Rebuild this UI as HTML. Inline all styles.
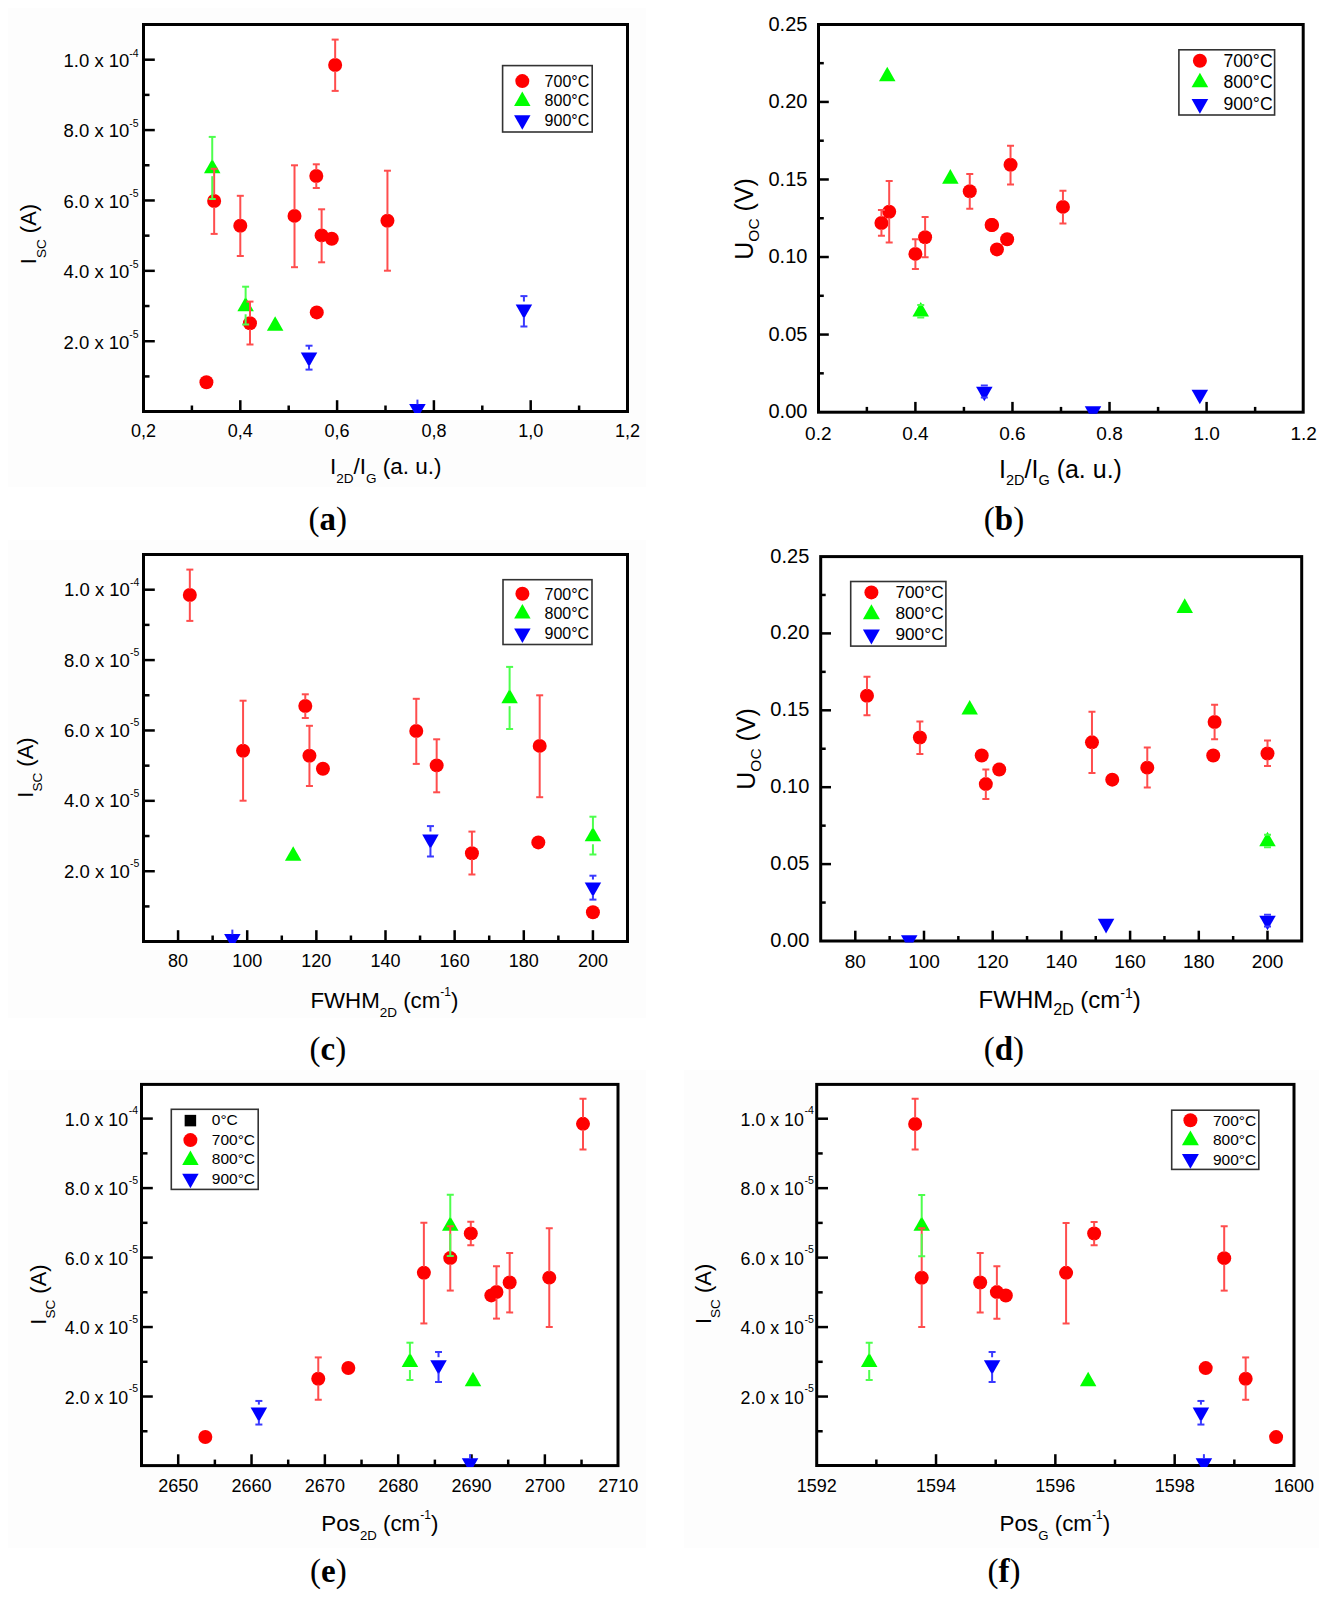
<!DOCTYPE html>
<html><head><meta charset="utf-8"><style>
html,body{margin:0;padding:0;background:#fff;}
body{width:1328px;height:1597px;overflow:hidden;}
svg{display:block;}
</style></head><body>
<svg width="1328" height="1597" viewBox="0 0 1328 1597">
<rect width="1328" height="1597" fill="#fff"/>
<rect x="8" y="8" width="638" height="479" fill="#fdfdfd"/>
<rect x="143.5" y="24.5" width="484.0" height="387.0" fill="#fff"/>
<rect x="143.5" y="24.5" width="484" height="387" fill="none" stroke="#000" stroke-width="3"/>
<path d="M240.3 411.5L240.3 400.2" stroke="#000" stroke-width="2.5"/>
<path d="M337.1 411.5L337.1 400.2" stroke="#000" stroke-width="2.5"/>
<path d="M433.9 411.5L433.9 400.2" stroke="#000" stroke-width="2.5"/>
<path d="M530.7 411.5L530.7 400.2" stroke="#000" stroke-width="2.5"/>
<path d="M191.9 411.5L191.9 405.5" stroke="#000" stroke-width="2.5"/>
<path d="M288.7 411.5L288.7 405.5" stroke="#000" stroke-width="2.5"/>
<path d="M385.5 411.5L385.5 405.5" stroke="#000" stroke-width="2.5"/>
<path d="M482.3 411.5L482.3 405.5" stroke="#000" stroke-width="2.5"/>
<path d="M579.1 411.5L579.1 405.5" stroke="#000" stroke-width="2.5"/>
<path d="M143.5 341.22L154.8 341.22" stroke="#000" stroke-width="2.5"/>
<path d="M143.5 270.84L154.8 270.84" stroke="#000" stroke-width="2.5"/>
<path d="M143.5 200.46L154.8 200.46" stroke="#000" stroke-width="2.5"/>
<path d="M143.5 130.08L154.8 130.08" stroke="#000" stroke-width="2.5"/>
<path d="M143.5 59.7L154.8 59.7" stroke="#000" stroke-width="2.5"/>
<path d="M143.5 376.41L149.5 376.41" stroke="#000" stroke-width="2.5"/>
<path d="M143.5 306.03L149.5 306.03" stroke="#000" stroke-width="2.5"/>
<path d="M143.5 235.65L149.5 235.65" stroke="#000" stroke-width="2.5"/>
<path d="M143.5 165.27L149.5 165.27" stroke="#000" stroke-width="2.5"/>
<path d="M143.5 94.89L149.5 94.89" stroke="#000" stroke-width="2.5"/>
<clipPath id="cp1"><rect x="142" y="23" width="487" height="390"/></clipPath>
<g clip-path="url(#cp1)">
<circle cx="335.16" cy="65" r="7" fill="#ff0000"/>
<circle cx="214.16" cy="201" r="7" fill="#ff0000"/>
<circle cx="316.29" cy="176" r="7" fill="#ff0000"/>
<circle cx="240.3" cy="225.7" r="7" fill="#ff0000"/>
<circle cx="294.51" cy="215.9" r="7" fill="#ff0000"/>
<circle cx="321.61" cy="235.4" r="7" fill="#ff0000"/>
<circle cx="331.78" cy="238.8" r="7" fill="#ff0000"/>
<circle cx="387.44" cy="220.8" r="7" fill="#ff0000"/>
<circle cx="249.98" cy="323.2" r="7" fill="#ff0000"/>
<circle cx="316.77" cy="312.4" r="7" fill="#ff0000"/>
<circle cx="206.42" cy="382.3" r="7" fill="#ff0000"/>
<path d="M212.23 158.64L220.48 173.16L203.98 173.16Z" fill="#00ff00"/>
<path d="M245.62 296.74L253.87 311.26L237.37 311.26Z" fill="#00ff00"/>
<path d="M275.15 316.24L283.4 330.76L266.9 330.76Z" fill="#00ff00"/>
<path d="M309.03 367.06L317.28 352.54L300.78 352.54Z" fill="#0000ff"/>
<path d="M523.92 319.06L532.17 304.54L515.67 304.54Z" fill="#0000ff"/>
<path d="M417.44 418.46L425.69 403.94L409.19 403.94Z" fill="#0000ff"/>
<path d="M335.16 39.6L335.16 59" stroke="#ff4d4d" stroke-width="2.0"/>
<path d="M331.66 39.6L338.66 39.6" stroke="#ff4d4d" stroke-width="2.0"/>
<path d="M335.16 71L335.16 90.9" stroke="#ff4d4d" stroke-width="2.0"/>
<path d="M331.66 90.9L338.66 90.9" stroke="#ff4d4d" stroke-width="2.0"/>
<path d="M214.16 168.8L214.16 195" stroke="#ff4d4d" stroke-width="2.0"/>
<path d="M210.66 168.8L217.66 168.8" stroke="#ff4d4d" stroke-width="2.0"/>
<path d="M214.16 207L214.16 233.9" stroke="#ff4d4d" stroke-width="2.0"/>
<path d="M210.66 233.9L217.66 233.9" stroke="#ff4d4d" stroke-width="2.0"/>
<path d="M316.29 164.3L316.29 170" stroke="#ff4d4d" stroke-width="2.0"/>
<path d="M312.79 164.3L319.79 164.3" stroke="#ff4d4d" stroke-width="2.0"/>
<path d="M316.29 182L316.29 188" stroke="#ff4d4d" stroke-width="2.0"/>
<path d="M312.79 188L319.79 188" stroke="#ff4d4d" stroke-width="2.0"/>
<path d="M240.3 195.8L240.3 219.7" stroke="#ff4d4d" stroke-width="2.0"/>
<path d="M236.8 195.8L243.8 195.8" stroke="#ff4d4d" stroke-width="2.0"/>
<path d="M240.3 231.7L240.3 256" stroke="#ff4d4d" stroke-width="2.0"/>
<path d="M236.8 256L243.8 256" stroke="#ff4d4d" stroke-width="2.0"/>
<path d="M294.51 165.3L294.51 209.9" stroke="#ff4d4d" stroke-width="2.0"/>
<path d="M291.01 165.3L298.01 165.3" stroke="#ff4d4d" stroke-width="2.0"/>
<path d="M294.51 221.9L294.51 267.2" stroke="#ff4d4d" stroke-width="2.0"/>
<path d="M291.01 267.2L298.01 267.2" stroke="#ff4d4d" stroke-width="2.0"/>
<path d="M321.61 209.3L321.61 229.4" stroke="#ff4d4d" stroke-width="2.0"/>
<path d="M318.11 209.3L325.11 209.3" stroke="#ff4d4d" stroke-width="2.0"/>
<path d="M321.61 241.4L321.61 262.3" stroke="#ff4d4d" stroke-width="2.0"/>
<path d="M318.11 262.3L325.11 262.3" stroke="#ff4d4d" stroke-width="2.0"/>
<path d="M387.44 170.7L387.44 214.8" stroke="#ff4d4d" stroke-width="2.0"/>
<path d="M383.94 170.7L390.94 170.7" stroke="#ff4d4d" stroke-width="2.0"/>
<path d="M387.44 226.8L387.44 270.7" stroke="#ff4d4d" stroke-width="2.0"/>
<path d="M383.94 270.7L390.94 270.7" stroke="#ff4d4d" stroke-width="2.0"/>
<path d="M249.98 301.6L249.98 317.2" stroke="#ff4d4d" stroke-width="2.0"/>
<path d="M246.48 301.6L253.48 301.6" stroke="#ff4d4d" stroke-width="2.0"/>
<path d="M249.98 329.2L249.98 344.5" stroke="#ff4d4d" stroke-width="2.0"/>
<path d="M246.48 344.5L253.48 344.5" stroke="#ff4d4d" stroke-width="2.0"/>
<path d="M212.23 136.9L212.23 160.64" stroke="#4dff4d" stroke-width="2.0"/>
<path d="M208.73 136.9L215.73 136.9" stroke="#4dff4d" stroke-width="2.0"/>
<path d="M212.23 176.16L212.23 199" stroke="#4dff4d" stroke-width="2.0"/>
<path d="M208.73 199L215.73 199" stroke="#4dff4d" stroke-width="2.0"/>
<path d="M245.62 286.7L245.62 298.74" stroke="#4dff4d" stroke-width="2.0"/>
<path d="M242.12 286.7L249.12 286.7" stroke="#4dff4d" stroke-width="2.0"/>
<path d="M245.62 314.26L245.62 324.5" stroke="#4dff4d" stroke-width="2.0"/>
<path d="M242.12 324.5L249.12 324.5" stroke="#4dff4d" stroke-width="2.0"/>
<path d="M309.03 345.7L309.03 349.54" stroke="#3a3aff" stroke-width="2.0"/>
<path d="M305.53 345.7L312.53 345.7" stroke="#3a3aff" stroke-width="2.0"/>
<path d="M309.03 365.06L309.03 369.6" stroke="#3a3aff" stroke-width="2.0"/>
<path d="M305.53 369.6L312.53 369.6" stroke="#3a3aff" stroke-width="2.0"/>
<path d="M523.92 296.1L523.92 301.54" stroke="#3a3aff" stroke-width="2.0"/>
<path d="M520.42 296.1L527.42 296.1" stroke="#3a3aff" stroke-width="2.0"/>
<path d="M523.92 317.06L523.92 326.5" stroke="#3a3aff" stroke-width="2.0"/>
<path d="M520.42 326.5L527.42 326.5" stroke="#3a3aff" stroke-width="2.0"/>
<path d="M417.44 399.6L417.44 404.44" stroke="#3a3aff" stroke-width="2.0"/>
</g>
<text x="143.5" y="437.4" font-size="18" text-anchor="middle" font-family="Liberation Sans" font-weight="normal" fill="#000" >0,2</text>
<text x="240.3" y="437.4" font-size="18" text-anchor="middle" font-family="Liberation Sans" font-weight="normal" fill="#000" >0,4</text>
<text x="337.1" y="437.4" font-size="18" text-anchor="middle" font-family="Liberation Sans" font-weight="normal" fill="#000" >0,6</text>
<text x="433.9" y="437.4" font-size="18" text-anchor="middle" font-family="Liberation Sans" font-weight="normal" fill="#000" >0,8</text>
<text x="530.7" y="437.4" font-size="18" text-anchor="middle" font-family="Liberation Sans" font-weight="normal" fill="#000" >1,0</text>
<text x="627.5" y="437.4" font-size="18" text-anchor="middle" font-family="Liberation Sans" font-weight="normal" fill="#000" >1,2</text>
<text x="129.4" y="348.52" font-size="18.5" text-anchor="end" font-family="Liberation Sans" font-weight="normal" fill="#000" >2.0 x 10</text>
<text x="129.2" y="338.02" font-size="10.5" text-anchor="start" font-family="Liberation Sans" font-weight="normal" fill="#000" >-5</text>
<text x="129.4" y="278.14" font-size="18.5" text-anchor="end" font-family="Liberation Sans" font-weight="normal" fill="#000" >4.0 x 10</text>
<text x="129.2" y="267.64" font-size="10.5" text-anchor="start" font-family="Liberation Sans" font-weight="normal" fill="#000" >-5</text>
<text x="129.4" y="207.76" font-size="18.5" text-anchor="end" font-family="Liberation Sans" font-weight="normal" fill="#000" >6.0 x 10</text>
<text x="129.2" y="197.26" font-size="10.5" text-anchor="start" font-family="Liberation Sans" font-weight="normal" fill="#000" >-5</text>
<text x="129.4" y="137.38" font-size="18.5" text-anchor="end" font-family="Liberation Sans" font-weight="normal" fill="#000" >8.0 x 10</text>
<text x="129.2" y="126.88" font-size="10.5" text-anchor="start" font-family="Liberation Sans" font-weight="normal" fill="#000" >-5</text>
<text x="129.4" y="67" font-size="18.5" text-anchor="end" font-family="Liberation Sans" font-weight="normal" fill="#000" >1.0 x 10</text>
<text x="129.2" y="56.5" font-size="10.5" text-anchor="start" font-family="Liberation Sans" font-weight="normal" fill="#000" >-4</text>
<text x="330" y="473.8" font-size="22.5" font-family="Liberation Sans" fill="#000"><tspan font-size="22.5">I</tspan><tspan font-size="13.5" dy="9">2D</tspan><tspan font-size="22.5" dy="-9">/I</tspan><tspan font-size="13.5" dy="9">G</tspan><tspan font-size="22.5" dy="-9"> (a. u.)</tspan></text>
<g transform="translate(36.2,264.2) rotate(-90)"><text x="0" y="0" font-size="22" font-family="Liberation Sans" fill="#000"><tspan font-size="22">I</tspan><tspan font-size="13.5" dy="9.5">SC</tspan><tspan font-size="22" dy="-9.5"> (A)</tspan></text></g>
<rect x="502.6" y="65.6" width="89.6" height="66.4" fill="#fff" stroke="#333" stroke-width="1.6"/>
<circle cx="522.3" cy="81.1" r="7" fill="#ff0000"/>
<text x="544.6" y="86.6" font-size="16" text-anchor="start" font-family="Liberation Sans" font-weight="normal" fill="#000" >700°C</text>
<path d="M522.3 91.47L530.51 105.93L514.08 105.93Z" fill="#00ff00"/>
<text x="544.6" y="105.5" font-size="16" text-anchor="start" font-family="Liberation Sans" font-weight="normal" fill="#000" >800°C</text>
<path d="M522.3 129.63L530.51 115.17L514.08 115.17Z" fill="#0000ff"/>
<text x="544.6" y="125.7" font-size="16" text-anchor="start" font-family="Liberation Sans" font-weight="normal" fill="#000" >900°C</text>
<text x="327.8" y="530.2" font-size="33" font-family="Liberation Serif" text-anchor="middle" fill="#000">(<tspan font-weight="bold">a</tspan>)</text>
<rect x="818.5" y="24.5" width="484.7" height="387.7" fill="none" stroke="#000" stroke-width="3"/>
<path d="M915.4 412.2L915.4 401.9" stroke="#000" stroke-width="2.5"/>
<path d="M1012.47 412.2L1012.47 401.9" stroke="#000" stroke-width="2.5"/>
<path d="M1109.53 412.2L1109.53 401.9" stroke="#000" stroke-width="2.5"/>
<path d="M1206.6 412.2L1206.6 401.9" stroke="#000" stroke-width="2.5"/>
<path d="M866.87 412.2L866.87 406.9" stroke="#000" stroke-width="2.5"/>
<path d="M963.93 412.2L963.93 406.9" stroke="#000" stroke-width="2.5"/>
<path d="M1061 412.2L1061 406.9" stroke="#000" stroke-width="2.5"/>
<path d="M1158.07 412.2L1158.07 406.9" stroke="#000" stroke-width="2.5"/>
<path d="M1255.13 412.2L1255.13 406.9" stroke="#000" stroke-width="2.5"/>
<path d="M818.5 334.56L828.8 334.56" stroke="#000" stroke-width="2.5"/>
<path d="M818.5 257.02L828.8 257.02" stroke="#000" stroke-width="2.5"/>
<path d="M818.5 179.48L828.8 179.48" stroke="#000" stroke-width="2.5"/>
<path d="M818.5 101.94L828.8 101.94" stroke="#000" stroke-width="2.5"/>
<path d="M818.5 373.33L823.8 373.33" stroke="#000" stroke-width="2.5"/>
<path d="M818.5 295.79L823.8 295.79" stroke="#000" stroke-width="2.5"/>
<path d="M818.5 218.25L823.8 218.25" stroke="#000" stroke-width="2.5"/>
<path d="M818.5 140.71L823.8 140.71" stroke="#000" stroke-width="2.5"/>
<path d="M818.5 63.17L823.8 63.17" stroke="#000" stroke-width="2.5"/>
<clipPath id="cp2"><rect x="817" y="23" width="487.7" height="390.7"/></clipPath>
<g clip-path="url(#cp2)">
<circle cx="1010.53" cy="164.77" r="7" fill="#ff0000"/>
<circle cx="889.19" cy="211.8" r="7" fill="#ff0000"/>
<circle cx="991.6" cy="225" r="7" fill="#ff0000"/>
<circle cx="915.4" cy="253.92" r="7" fill="#ff0000"/>
<circle cx="969.76" cy="191.29" r="7" fill="#ff0000"/>
<circle cx="996.94" cy="249.42" r="7" fill="#ff0000"/>
<circle cx="1007.13" cy="239.21" r="7" fill="#ff0000"/>
<circle cx="1062.94" cy="206.89" r="7" fill="#ff0000"/>
<circle cx="925.11" cy="237.31" r="7" fill="#ff0000"/>
<circle cx="992.08" cy="225" r="7" fill="#ff0000"/>
<circle cx="881.43" cy="223" r="7" fill="#ff0000"/>
<path d="M887.25 66.67L895.5 81.19L879 81.19Z" fill="#00ff00"/>
<path d="M920.74 301.99L928.99 316.51L912.49 316.51Z" fill="#00ff00"/>
<path d="M950.34 169.12L958.59 183.64L942.09 183.64Z" fill="#00ff00"/>
<path d="M984.32 401.15L992.57 386.63L976.07 386.63Z" fill="#0000ff"/>
<path d="M1199.81 404.35L1208.06 389.83L1191.56 389.83Z" fill="#0000ff"/>
<path d="M1093.03 420.86L1101.28 406.34L1084.78 406.34Z" fill="#0000ff"/>
<path d="M1010.53 145.66L1010.53 158.77" stroke="#ff4d4d" stroke-width="2.0"/>
<path d="M1007.03 145.66L1014.03 145.66" stroke="#ff4d4d" stroke-width="2.0"/>
<path d="M1010.53 170.77L1010.53 184.38" stroke="#ff4d4d" stroke-width="2.0"/>
<path d="M1007.03 184.38L1014.03 184.38" stroke="#ff4d4d" stroke-width="2.0"/>
<path d="M889.19 180.88L889.19 205.8" stroke="#ff4d4d" stroke-width="2.0"/>
<path d="M885.69 180.88L892.69 180.88" stroke="#ff4d4d" stroke-width="2.0"/>
<path d="M889.19 217.8L889.19 242.61" stroke="#ff4d4d" stroke-width="2.0"/>
<path d="M885.69 242.61L892.69 242.61" stroke="#ff4d4d" stroke-width="2.0"/>
<path d="M915.4 239.21L915.4 247.92" stroke="#ff4d4d" stroke-width="2.0"/>
<path d="M911.9 239.21L918.9 239.21" stroke="#ff4d4d" stroke-width="2.0"/>
<path d="M915.4 259.92L915.4 269.03" stroke="#ff4d4d" stroke-width="2.0"/>
<path d="M911.9 269.03L918.9 269.03" stroke="#ff4d4d" stroke-width="2.0"/>
<path d="M969.76 173.98L969.76 185.29" stroke="#ff4d4d" stroke-width="2.0"/>
<path d="M966.26 173.98L973.26 173.98" stroke="#ff4d4d" stroke-width="2.0"/>
<path d="M969.76 197.29L969.76 208.7" stroke="#ff4d4d" stroke-width="2.0"/>
<path d="M966.26 208.7L973.26 208.7" stroke="#ff4d4d" stroke-width="2.0"/>
<path d="M1062.94 190.69L1062.94 200.89" stroke="#ff4d4d" stroke-width="2.0"/>
<path d="M1059.44 190.69L1066.44 190.69" stroke="#ff4d4d" stroke-width="2.0"/>
<path d="M1062.94 212.89L1062.94 223.6" stroke="#ff4d4d" stroke-width="2.0"/>
<path d="M1059.44 223.6L1066.44 223.6" stroke="#ff4d4d" stroke-width="2.0"/>
<path d="M925.11 217.1L925.11 231.31" stroke="#ff4d4d" stroke-width="2.0"/>
<path d="M921.61 217.1L928.61 217.1" stroke="#ff4d4d" stroke-width="2.0"/>
<path d="M925.11 243.31L925.11 257.32" stroke="#ff4d4d" stroke-width="2.0"/>
<path d="M921.61 257.32L928.61 257.32" stroke="#ff4d4d" stroke-width="2.0"/>
<path d="M881.43 209.9L881.43 217" stroke="#ff4d4d" stroke-width="2.0"/>
<path d="M877.93 209.9L884.93 209.9" stroke="#ff4d4d" stroke-width="2.0"/>
<path d="M881.43 229L881.43 235.71" stroke="#ff4d4d" stroke-width="2.0"/>
<path d="M877.93 235.71L884.93 235.71" stroke="#ff4d4d" stroke-width="2.0"/>
<path d="M917.24 305.04L924.24 305.04" stroke="#4dff4d" stroke-width="2.0"/>
<path d="M917.24 317.45L924.24 317.45" stroke="#4dff4d" stroke-width="2.0"/>
<path d="M980.82 385.59L987.82 385.59" stroke="#3a3aff" stroke-width="2.0"/>
<path d="M980.82 397.39L987.82 397.39" stroke="#3a3aff" stroke-width="2.0"/>
</g>
<text x="818.33" y="439.6" font-size="19" text-anchor="middle" font-family="Liberation Sans" font-weight="normal" fill="#000" >0.2</text>
<text x="915.4" y="439.6" font-size="19" text-anchor="middle" font-family="Liberation Sans" font-weight="normal" fill="#000" >0.4</text>
<text x="1012.47" y="439.6" font-size="19" text-anchor="middle" font-family="Liberation Sans" font-weight="normal" fill="#000" >0.6</text>
<text x="1109.53" y="439.6" font-size="19" text-anchor="middle" font-family="Liberation Sans" font-weight="normal" fill="#000" >0.8</text>
<text x="1206.6" y="439.6" font-size="19" text-anchor="middle" font-family="Liberation Sans" font-weight="normal" fill="#000" >1.0</text>
<text x="1303.67" y="439.6" font-size="19" text-anchor="middle" font-family="Liberation Sans" font-weight="normal" fill="#000" >1.2</text>
<text x="807.4" y="418.4" font-size="20" text-anchor="end" font-family="Liberation Sans" font-weight="normal" fill="#000" >0.00</text>
<text x="807.4" y="340.86" font-size="20" text-anchor="end" font-family="Liberation Sans" font-weight="normal" fill="#000" >0.05</text>
<text x="807.4" y="263.32" font-size="20" text-anchor="end" font-family="Liberation Sans" font-weight="normal" fill="#000" >0.10</text>
<text x="807.4" y="185.78" font-size="20" text-anchor="end" font-family="Liberation Sans" font-weight="normal" fill="#000" >0.15</text>
<text x="807.4" y="108.24" font-size="20" text-anchor="end" font-family="Liberation Sans" font-weight="normal" fill="#000" >0.20</text>
<text x="807.4" y="30.7" font-size="20" text-anchor="end" font-family="Liberation Sans" font-weight="normal" fill="#000" >0.25</text>
<text x="999" y="477.8" font-size="25" font-family="Liberation Sans" fill="#000"><tspan font-size="25">I</tspan><tspan font-size="14.5" dy="6.7">2D</tspan><tspan font-size="25" dy="-6.7">/I</tspan><tspan font-size="14.5" dy="6.7">G</tspan><tspan font-size="25" dy="-6.7"> (a. u.)</tspan></text>
<g transform="translate(752.6,259.7) rotate(-90)"><text x="0" y="0" font-size="25" font-family="Liberation Sans" fill="#000"><tspan font-size="25">U</tspan><tspan font-size="15.5" dy="6.5">OC</tspan><tspan font-size="25" dy="-6.5"> (V)</tspan></text></g>
<rect x="1178.9" y="49.8" width="95.7" height="65.2" fill="#fff" stroke="#333" stroke-width="1.6"/>
<circle cx="1199.9" cy="60.7" r="7" fill="#ff0000"/>
<text x="1223.5" y="66.7" font-size="17.6" text-anchor="start" font-family="Liberation Sans" font-weight="normal" fill="#000" >700°C</text>
<path d="M1199.9 72.63L1208.22 87.27L1191.58 87.27Z" fill="#00ff00"/>
<text x="1223.5" y="88.2" font-size="17.6" text-anchor="start" font-family="Liberation Sans" font-weight="normal" fill="#000" >800°C</text>
<path d="M1199.9 113.67L1208.22 99.03L1191.58 99.03Z" fill="#0000ff"/>
<text x="1223.5" y="109.6" font-size="17.6" text-anchor="start" font-family="Liberation Sans" font-weight="normal" fill="#000" >900°C</text>
<text x="1004" y="530.2" font-size="33" font-family="Liberation Serif" text-anchor="middle" fill="#000">(<tspan font-weight="bold">b</tspan>)</text>
<rect x="8" y="540" width="638" height="478" fill="#fdfdfd"/>
<rect x="143.5" y="554.5" width="484.0" height="387.0" fill="#fff"/>
<rect x="143.5" y="554.5" width="484" height="387" fill="none" stroke="#000" stroke-width="3"/>
<path d="M178.07 941.5L178.07 930.2" stroke="#000" stroke-width="2.5"/>
<path d="M247.21 941.5L247.21 930.2" stroke="#000" stroke-width="2.5"/>
<path d="M316.36 941.5L316.36 930.2" stroke="#000" stroke-width="2.5"/>
<path d="M385.5 941.5L385.5 930.2" stroke="#000" stroke-width="2.5"/>
<path d="M454.64 941.5L454.64 930.2" stroke="#000" stroke-width="2.5"/>
<path d="M523.79 941.5L523.79 930.2" stroke="#000" stroke-width="2.5"/>
<path d="M592.93 941.5L592.93 930.2" stroke="#000" stroke-width="2.5"/>
<path d="M212.64 941.5L212.64 935.5" stroke="#000" stroke-width="2.5"/>
<path d="M281.79 941.5L281.79 935.5" stroke="#000" stroke-width="2.5"/>
<path d="M350.93 941.5L350.93 935.5" stroke="#000" stroke-width="2.5"/>
<path d="M420.07 941.5L420.07 935.5" stroke="#000" stroke-width="2.5"/>
<path d="M489.21 941.5L489.21 935.5" stroke="#000" stroke-width="2.5"/>
<path d="M558.36 941.5L558.36 935.5" stroke="#000" stroke-width="2.5"/>
<path d="M143.5 871.22L154.8 871.22" stroke="#000" stroke-width="2.5"/>
<path d="M143.5 800.84L154.8 800.84" stroke="#000" stroke-width="2.5"/>
<path d="M143.5 730.46L154.8 730.46" stroke="#000" stroke-width="2.5"/>
<path d="M143.5 660.08L154.8 660.08" stroke="#000" stroke-width="2.5"/>
<path d="M143.5 589.7L154.8 589.7" stroke="#000" stroke-width="2.5"/>
<path d="M143.5 906.41L149.5 906.41" stroke="#000" stroke-width="2.5"/>
<path d="M143.5 836.03L149.5 836.03" stroke="#000" stroke-width="2.5"/>
<path d="M143.5 765.65L149.5 765.65" stroke="#000" stroke-width="2.5"/>
<path d="M143.5 695.27L149.5 695.27" stroke="#000" stroke-width="2.5"/>
<path d="M143.5 624.89L149.5 624.89" stroke="#000" stroke-width="2.5"/>
<clipPath id="cp3"><rect x="142" y="553" width="487" height="390"/></clipPath>
<g clip-path="url(#cp3)">
<circle cx="189.83" cy="595" r="7" fill="#ff0000"/>
<circle cx="416.27" cy="731" r="7" fill="#ff0000"/>
<circle cx="305.29" cy="706" r="7" fill="#ff0000"/>
<circle cx="309.44" cy="755.7" r="7" fill="#ff0000"/>
<circle cx="539.69" cy="745.9" r="7" fill="#ff0000"/>
<circle cx="436.67" cy="765.4" r="7" fill="#ff0000"/>
<circle cx="322.93" cy="768.8" r="7" fill="#ff0000"/>
<circle cx="243.07" cy="750.8" r="7" fill="#ff0000"/>
<circle cx="471.93" cy="853.2" r="7" fill="#ff0000"/>
<circle cx="538.31" cy="842.4" r="7" fill="#ff0000"/>
<circle cx="592.93" cy="912.3" r="7" fill="#ff0000"/>
<path d="M509.61 688.64L517.86 703.16L501.36 703.16Z" fill="#00ff00"/>
<path d="M592.93 826.74L601.18 841.26L584.68 841.26Z" fill="#00ff00"/>
<path d="M293.19 846.24L301.44 860.76L284.94 860.76Z" fill="#00ff00"/>
<path d="M592.93 897.06L601.18 882.54L584.68 882.54Z" fill="#0000ff"/>
<path d="M430.44 849.06L438.69 834.54L422.19 834.54Z" fill="#0000ff"/>
<path d="M232.35 948.46L240.6 933.94L224.1 933.94Z" fill="#0000ff"/>
<path d="M189.83 569.6L189.83 589" stroke="#ff4d4d" stroke-width="2.0"/>
<path d="M186.33 569.6L193.33 569.6" stroke="#ff4d4d" stroke-width="2.0"/>
<path d="M189.83 601L189.83 620.9" stroke="#ff4d4d" stroke-width="2.0"/>
<path d="M186.33 620.9L193.33 620.9" stroke="#ff4d4d" stroke-width="2.0"/>
<path d="M416.27 698.8L416.27 725" stroke="#ff4d4d" stroke-width="2.0"/>
<path d="M412.77 698.8L419.77 698.8" stroke="#ff4d4d" stroke-width="2.0"/>
<path d="M416.27 737L416.27 763.9" stroke="#ff4d4d" stroke-width="2.0"/>
<path d="M412.77 763.9L419.77 763.9" stroke="#ff4d4d" stroke-width="2.0"/>
<path d="M305.29 694.3L305.29 700" stroke="#ff4d4d" stroke-width="2.0"/>
<path d="M301.79 694.3L308.79 694.3" stroke="#ff4d4d" stroke-width="2.0"/>
<path d="M305.29 712L305.29 718" stroke="#ff4d4d" stroke-width="2.0"/>
<path d="M301.79 718L308.79 718" stroke="#ff4d4d" stroke-width="2.0"/>
<path d="M309.44 725.8L309.44 749.7" stroke="#ff4d4d" stroke-width="2.0"/>
<path d="M305.94 725.8L312.94 725.8" stroke="#ff4d4d" stroke-width="2.0"/>
<path d="M309.44 761.7L309.44 786" stroke="#ff4d4d" stroke-width="2.0"/>
<path d="M305.94 786L312.94 786" stroke="#ff4d4d" stroke-width="2.0"/>
<path d="M539.69 695.3L539.69 739.9" stroke="#ff4d4d" stroke-width="2.0"/>
<path d="M536.19 695.3L543.19 695.3" stroke="#ff4d4d" stroke-width="2.0"/>
<path d="M539.69 751.9L539.69 797.2" stroke="#ff4d4d" stroke-width="2.0"/>
<path d="M536.19 797.2L543.19 797.2" stroke="#ff4d4d" stroke-width="2.0"/>
<path d="M436.67 739.3L436.67 759.4" stroke="#ff4d4d" stroke-width="2.0"/>
<path d="M433.17 739.3L440.17 739.3" stroke="#ff4d4d" stroke-width="2.0"/>
<path d="M436.67 771.4L436.67 792.3" stroke="#ff4d4d" stroke-width="2.0"/>
<path d="M433.17 792.3L440.17 792.3" stroke="#ff4d4d" stroke-width="2.0"/>
<path d="M243.07 700.7L243.07 744.8" stroke="#ff4d4d" stroke-width="2.0"/>
<path d="M239.57 700.7L246.57 700.7" stroke="#ff4d4d" stroke-width="2.0"/>
<path d="M243.07 756.8L243.07 800.7" stroke="#ff4d4d" stroke-width="2.0"/>
<path d="M239.57 800.7L246.57 800.7" stroke="#ff4d4d" stroke-width="2.0"/>
<path d="M471.93 831.6L471.93 847.2" stroke="#ff4d4d" stroke-width="2.0"/>
<path d="M468.43 831.6L475.43 831.6" stroke="#ff4d4d" stroke-width="2.0"/>
<path d="M471.93 859.2L471.93 874.5" stroke="#ff4d4d" stroke-width="2.0"/>
<path d="M468.43 874.5L475.43 874.5" stroke="#ff4d4d" stroke-width="2.0"/>
<path d="M509.61 666.9L509.61 690.64" stroke="#4dff4d" stroke-width="2.0"/>
<path d="M506.11 666.9L513.11 666.9" stroke="#4dff4d" stroke-width="2.0"/>
<path d="M509.61 706.16L509.61 729" stroke="#4dff4d" stroke-width="2.0"/>
<path d="M506.11 729L513.11 729" stroke="#4dff4d" stroke-width="2.0"/>
<path d="M592.93 816.7L592.93 828.74" stroke="#4dff4d" stroke-width="2.0"/>
<path d="M589.43 816.7L596.43 816.7" stroke="#4dff4d" stroke-width="2.0"/>
<path d="M592.93 844.26L592.93 854.5" stroke="#4dff4d" stroke-width="2.0"/>
<path d="M589.43 854.5L596.43 854.5" stroke="#4dff4d" stroke-width="2.0"/>
<path d="M592.93 875.7L592.93 879.54" stroke="#3a3aff" stroke-width="2.0"/>
<path d="M589.43 875.7L596.43 875.7" stroke="#3a3aff" stroke-width="2.0"/>
<path d="M592.93 895.06L592.93 899.6" stroke="#3a3aff" stroke-width="2.0"/>
<path d="M589.43 899.6L596.43 899.6" stroke="#3a3aff" stroke-width="2.0"/>
<path d="M430.44 826.1L430.44 831.54" stroke="#3a3aff" stroke-width="2.0"/>
<path d="M426.94 826.1L433.94 826.1" stroke="#3a3aff" stroke-width="2.0"/>
<path d="M430.44 847.06L430.44 856.5" stroke="#3a3aff" stroke-width="2.0"/>
<path d="M426.94 856.5L433.94 856.5" stroke="#3a3aff" stroke-width="2.0"/>
<path d="M232.35 929.6L232.35 934.44" stroke="#3a3aff" stroke-width="2.0"/>
</g>
<text x="178.07" y="967.4" font-size="18" text-anchor="middle" font-family="Liberation Sans" font-weight="normal" fill="#000" >80</text>
<text x="247.21" y="967.4" font-size="18" text-anchor="middle" font-family="Liberation Sans" font-weight="normal" fill="#000" >100</text>
<text x="316.36" y="967.4" font-size="18" text-anchor="middle" font-family="Liberation Sans" font-weight="normal" fill="#000" >120</text>
<text x="385.5" y="967.4" font-size="18" text-anchor="middle" font-family="Liberation Sans" font-weight="normal" fill="#000" >140</text>
<text x="454.64" y="967.4" font-size="18" text-anchor="middle" font-family="Liberation Sans" font-weight="normal" fill="#000" >160</text>
<text x="523.79" y="967.4" font-size="18" text-anchor="middle" font-family="Liberation Sans" font-weight="normal" fill="#000" >180</text>
<text x="592.93" y="967.4" font-size="18" text-anchor="middle" font-family="Liberation Sans" font-weight="normal" fill="#000" >200</text>
<text x="129.9" y="877.72" font-size="18.5" text-anchor="end" font-family="Liberation Sans" font-weight="normal" fill="#000" >2.0 x 10</text>
<text x="129.9" y="867.22" font-size="10.5" text-anchor="start" font-family="Liberation Sans" font-weight="normal" fill="#000" >-5</text>
<text x="129.9" y="807.34" font-size="18.5" text-anchor="end" font-family="Liberation Sans" font-weight="normal" fill="#000" >4.0 x 10</text>
<text x="129.9" y="796.84" font-size="10.5" text-anchor="start" font-family="Liberation Sans" font-weight="normal" fill="#000" >-5</text>
<text x="129.9" y="736.96" font-size="18.5" text-anchor="end" font-family="Liberation Sans" font-weight="normal" fill="#000" >6.0 x 10</text>
<text x="129.9" y="726.46" font-size="10.5" text-anchor="start" font-family="Liberation Sans" font-weight="normal" fill="#000" >-5</text>
<text x="129.9" y="666.58" font-size="18.5" text-anchor="end" font-family="Liberation Sans" font-weight="normal" fill="#000" >8.0 x 10</text>
<text x="129.9" y="656.08" font-size="10.5" text-anchor="start" font-family="Liberation Sans" font-weight="normal" fill="#000" >-5</text>
<text x="129.9" y="596.2" font-size="18.5" text-anchor="end" font-family="Liberation Sans" font-weight="normal" fill="#000" >1.0 x 10</text>
<text x="129.9" y="585.7" font-size="10.5" text-anchor="start" font-family="Liberation Sans" font-weight="normal" fill="#000" >-4</text>
<text x="310.4" y="1007.8" font-size="22.3" font-family="Liberation Sans" fill="#000"><tspan font-size="22.3">FWHM</tspan><tspan font-size="13.5" dy="8.7">2D</tspan><tspan font-size="22.3" dy="-8.7"> (cm</tspan><tspan font-size="12" dy="-11.4">-1</tspan><tspan font-size="22.3" dy="11.4">)</tspan></text>
<g transform="translate(32.5,797.7) rotate(-90)"><text x="0" y="0" font-size="22" font-family="Liberation Sans" fill="#000"><tspan font-size="22">I</tspan><tspan font-size="13.5" dy="9.5">SC</tspan><tspan font-size="22" dy="-9.5"> (A)</tspan></text></g>
<rect x="503" y="579.7" width="89" height="64.8" fill="#fff" stroke="#333" stroke-width="1.6"/>
<circle cx="522.4" cy="593.7" r="7" fill="#ff0000"/>
<text x="544.5" y="599.5" font-size="16" text-anchor="start" font-family="Liberation Sans" font-weight="normal" fill="#000" >700°C</text>
<path d="M522.4 604.02L530.62 618.48L514.18 618.48Z" fill="#00ff00"/>
<text x="544.5" y="619" font-size="16" text-anchor="start" font-family="Liberation Sans" font-weight="normal" fill="#000" >800°C</text>
<path d="M522.4 642.88L530.62 628.42L514.18 628.42Z" fill="#0000ff"/>
<text x="544.5" y="639.1" font-size="16" text-anchor="start" font-family="Liberation Sans" font-weight="normal" fill="#000" >900°C</text>
<text x="327.8" y="1060.2" font-size="33" font-family="Liberation Serif" text-anchor="middle" fill="#000">(<tspan font-weight="bold">c</tspan>)</text>
<rect x="820.7" y="556.6" width="481" height="384.4" fill="none" stroke="#000" stroke-width="3"/>
<path d="M855.3 941L855.3 930.7" stroke="#000" stroke-width="2.5"/>
<path d="M924 941L924 930.7" stroke="#000" stroke-width="2.5"/>
<path d="M992.7 941L992.7 930.7" stroke="#000" stroke-width="2.5"/>
<path d="M1061.4 941L1061.4 930.7" stroke="#000" stroke-width="2.5"/>
<path d="M1130.1 941L1130.1 930.7" stroke="#000" stroke-width="2.5"/>
<path d="M1198.8 941L1198.8 930.7" stroke="#000" stroke-width="2.5"/>
<path d="M1267.5 941L1267.5 930.7" stroke="#000" stroke-width="2.5"/>
<path d="M889.65 941L889.65 936" stroke="#000" stroke-width="2.5"/>
<path d="M958.35 941L958.35 936" stroke="#000" stroke-width="2.5"/>
<path d="M1027.05 941L1027.05 936" stroke="#000" stroke-width="2.5"/>
<path d="M1095.75 941L1095.75 936" stroke="#000" stroke-width="2.5"/>
<path d="M1164.45 941L1164.45 936" stroke="#000" stroke-width="2.5"/>
<path d="M1233.15 941L1233.15 936" stroke="#000" stroke-width="2.5"/>
<path d="M820.7 864.1L831 864.1" stroke="#000" stroke-width="2.5"/>
<path d="M820.7 787.2L831 787.2" stroke="#000" stroke-width="2.5"/>
<path d="M820.7 710.3L831 710.3" stroke="#000" stroke-width="2.5"/>
<path d="M820.7 633.4L831 633.4" stroke="#000" stroke-width="2.5"/>
<path d="M820.7 902.55L825.7 902.55" stroke="#000" stroke-width="2.5"/>
<path d="M820.7 825.65L825.7 825.65" stroke="#000" stroke-width="2.5"/>
<path d="M820.7 748.75L825.7 748.75" stroke="#000" stroke-width="2.5"/>
<path d="M820.7 671.85L825.7 671.85" stroke="#000" stroke-width="2.5"/>
<path d="M820.7 594.95L825.7 594.95" stroke="#000" stroke-width="2.5"/>
<clipPath id="cp4"><rect x="819.2" y="555.1" width="484" height="387.4"/></clipPath>
<g clip-path="url(#cp4)">
<circle cx="866.98" cy="695.71" r="7" fill="#ff0000"/>
<circle cx="1091.97" cy="742.35" r="7" fill="#ff0000"/>
<circle cx="981.71" cy="755.45" r="7" fill="#ff0000"/>
<circle cx="985.83" cy="784.12" r="7" fill="#ff0000"/>
<circle cx="1214.6" cy="722.01" r="7" fill="#ff0000"/>
<circle cx="1112.24" cy="779.66" r="7" fill="#ff0000"/>
<circle cx="999.23" cy="769.54" r="7" fill="#ff0000"/>
<circle cx="919.88" cy="737.49" r="7" fill="#ff0000"/>
<circle cx="1147.28" cy="767.65" r="7" fill="#ff0000"/>
<circle cx="1213.23" cy="755.45" r="7" fill="#ff0000"/>
<circle cx="1267.5" cy="753.46" r="7" fill="#ff0000"/>
<path d="M1184.72 598.36L1192.97 612.88L1176.47 612.88Z" fill="#00ff00"/>
<path d="M1267.5 831.74L1275.75 846.26L1259.25 846.26Z" fill="#00ff00"/>
<path d="M969.69 699.96L977.94 714.48L961.44 714.48Z" fill="#00ff00"/>
<path d="M1267.5 930.2L1275.75 915.68L1259.25 915.68Z" fill="#0000ff"/>
<path d="M1106.06 933.38L1114.31 918.86L1097.81 918.86Z" fill="#0000ff"/>
<path d="M909.23 949.75L917.48 935.23L900.98 935.23Z" fill="#0000ff"/>
<path d="M866.98 676.76L866.98 689.71" stroke="#ff4d4d" stroke-width="2.0"/>
<path d="M863.48 676.76L870.48 676.76" stroke="#ff4d4d" stroke-width="2.0"/>
<path d="M866.98 701.71L866.98 715.16" stroke="#ff4d4d" stroke-width="2.0"/>
<path d="M863.48 715.16L870.48 715.16" stroke="#ff4d4d" stroke-width="2.0"/>
<path d="M1091.97 711.69L1091.97 736.35" stroke="#ff4d4d" stroke-width="2.0"/>
<path d="M1088.47 711.69L1095.47 711.69" stroke="#ff4d4d" stroke-width="2.0"/>
<path d="M1091.97 748.35L1091.97 772.91" stroke="#ff4d4d" stroke-width="2.0"/>
<path d="M1088.47 772.91L1095.47 772.91" stroke="#ff4d4d" stroke-width="2.0"/>
<path d="M985.83 769.54L985.83 778.12" stroke="#ff4d4d" stroke-width="2.0"/>
<path d="M982.33 769.54L989.33 769.54" stroke="#ff4d4d" stroke-width="2.0"/>
<path d="M985.83 790.12L985.83 799.11" stroke="#ff4d4d" stroke-width="2.0"/>
<path d="M982.33 799.11L989.33 799.11" stroke="#ff4d4d" stroke-width="2.0"/>
<path d="M1214.6 704.84L1214.6 716.01" stroke="#ff4d4d" stroke-width="2.0"/>
<path d="M1211.1 704.84L1218.1 704.84" stroke="#ff4d4d" stroke-width="2.0"/>
<path d="M1214.6 728.01L1214.6 739.27" stroke="#ff4d4d" stroke-width="2.0"/>
<path d="M1211.1 739.27L1218.1 739.27" stroke="#ff4d4d" stroke-width="2.0"/>
<path d="M919.88 721.41L919.88 731.49" stroke="#ff4d4d" stroke-width="2.0"/>
<path d="M916.38 721.41L923.38 721.41" stroke="#ff4d4d" stroke-width="2.0"/>
<path d="M919.88 743.49L919.88 754.06" stroke="#ff4d4d" stroke-width="2.0"/>
<path d="M916.38 754.06L923.38 754.06" stroke="#ff4d4d" stroke-width="2.0"/>
<path d="M1147.28 747.61L1147.28 761.65" stroke="#ff4d4d" stroke-width="2.0"/>
<path d="M1143.78 747.61L1150.78 747.61" stroke="#ff4d4d" stroke-width="2.0"/>
<path d="M1147.28 773.65L1147.28 787.5" stroke="#ff4d4d" stroke-width="2.0"/>
<path d="M1143.78 787.5L1150.78 787.5" stroke="#ff4d4d" stroke-width="2.0"/>
<path d="M1267.5 740.46L1267.5 747.46" stroke="#ff4d4d" stroke-width="2.0"/>
<path d="M1264 740.46L1271 740.46" stroke="#ff4d4d" stroke-width="2.0"/>
<path d="M1267.5 759.46L1267.5 766.06" stroke="#ff4d4d" stroke-width="2.0"/>
<path d="M1264 766.06L1271 766.06" stroke="#ff4d4d" stroke-width="2.0"/>
<path d="M1264 834.83L1271 834.83" stroke="#4dff4d" stroke-width="2.0"/>
<path d="M1264 847.13L1271 847.13" stroke="#4dff4d" stroke-width="2.0"/>
<path d="M1264 914.71L1271 914.71" stroke="#3a3aff" stroke-width="2.0"/>
<path d="M1264 926.41L1271 926.41" stroke="#3a3aff" stroke-width="2.0"/>
</g>
<text x="855.3" y="967.5" font-size="19" text-anchor="middle" font-family="Liberation Sans" font-weight="normal" fill="#000" >80</text>
<text x="924" y="967.5" font-size="19" text-anchor="middle" font-family="Liberation Sans" font-weight="normal" fill="#000" >100</text>
<text x="992.7" y="967.5" font-size="19" text-anchor="middle" font-family="Liberation Sans" font-weight="normal" fill="#000" >120</text>
<text x="1061.4" y="967.5" font-size="19" text-anchor="middle" font-family="Liberation Sans" font-weight="normal" fill="#000" >140</text>
<text x="1130.1" y="967.5" font-size="19" text-anchor="middle" font-family="Liberation Sans" font-weight="normal" fill="#000" >160</text>
<text x="1198.8" y="967.5" font-size="19" text-anchor="middle" font-family="Liberation Sans" font-weight="normal" fill="#000" >180</text>
<text x="1267.5" y="967.5" font-size="19" text-anchor="middle" font-family="Liberation Sans" font-weight="normal" fill="#000" >200</text>
<text x="809.3" y="947" font-size="20" text-anchor="end" font-family="Liberation Sans" font-weight="normal" fill="#000" >0.00</text>
<text x="809.3" y="870.1" font-size="20" text-anchor="end" font-family="Liberation Sans" font-weight="normal" fill="#000" >0.05</text>
<text x="809.3" y="793.2" font-size="20" text-anchor="end" font-family="Liberation Sans" font-weight="normal" fill="#000" >0.10</text>
<text x="809.3" y="716.3" font-size="20" text-anchor="end" font-family="Liberation Sans" font-weight="normal" fill="#000" >0.15</text>
<text x="809.3" y="639.4" font-size="20" text-anchor="end" font-family="Liberation Sans" font-weight="normal" fill="#000" >0.20</text>
<text x="809.3" y="562.5" font-size="20" text-anchor="end" font-family="Liberation Sans" font-weight="normal" fill="#000" >0.25</text>
<text x="978.6" y="1008" font-size="24" font-family="Liberation Sans" fill="#000"><tspan font-size="24">FWHM</tspan><tspan font-size="16" dy="7.3">2D</tspan><tspan font-size="24" dy="-7.3"> (cm</tspan><tspan font-size="14" dy="-10.5">-1</tspan><tspan font-size="24" dy="10.5">)</tspan></text>
<g transform="translate(754.8,789.7) rotate(-90)"><text x="0" y="0" font-size="25" font-family="Liberation Sans" fill="#000"><tspan font-size="25">U</tspan><tspan font-size="15.5" dy="6.5">OC</tspan><tspan font-size="25" dy="-6.5"> (V)</tspan></text></g>
<rect x="850.7" y="581.5" width="95.2" height="64.6" fill="#fff" stroke="#333" stroke-width="1.6"/>
<circle cx="871.4" cy="592.4" r="7" fill="#ff0000"/>
<text x="895.4" y="598" font-size="17.3" text-anchor="start" font-family="Liberation Sans" font-weight="normal" fill="#000" >700°C</text>
<path d="M871.4 604.24L879.88 619.16L862.92 619.16Z" fill="#00ff00"/>
<text x="895.4" y="619.1" font-size="17.3" text-anchor="start" font-family="Liberation Sans" font-weight="normal" fill="#000" >800°C</text>
<path d="M871.4 644.46L879.88 629.54L862.92 629.54Z" fill="#0000ff"/>
<text x="895.4" y="640.2" font-size="17.3" text-anchor="start" font-family="Liberation Sans" font-weight="normal" fill="#000" >900°C</text>
<text x="1003.9" y="1060.1" font-size="33" font-family="Liberation Serif" text-anchor="middle" fill="#000">(<tspan font-weight="bold">d</tspan>)</text>
<rect x="8" y="1070" width="638" height="478" fill="#fdfdfd"/>
<rect x="141.5" y="1084.4" width="476.5" height="381.1999999999998" fill="#fff"/>
<rect x="141.5" y="1084.4" width="476.5" height="381.2" fill="none" stroke="#000" stroke-width="3"/>
<path d="M178.2 1465.6L178.2 1454.3" stroke="#000" stroke-width="2.5"/>
<path d="M251.53 1465.6L251.53 1454.3" stroke="#000" stroke-width="2.5"/>
<path d="M324.87 1465.6L324.87 1454.3" stroke="#000" stroke-width="2.5"/>
<path d="M398.2 1465.6L398.2 1454.3" stroke="#000" stroke-width="2.5"/>
<path d="M471.53 1465.6L471.53 1454.3" stroke="#000" stroke-width="2.5"/>
<path d="M544.87 1465.6L544.87 1454.3" stroke="#000" stroke-width="2.5"/>
<path d="M214.87 1465.6L214.87 1459.6" stroke="#000" stroke-width="2.5"/>
<path d="M288.2 1465.6L288.2 1459.6" stroke="#000" stroke-width="2.5"/>
<path d="M361.53 1465.6L361.53 1459.6" stroke="#000" stroke-width="2.5"/>
<path d="M434.87 1465.6L434.87 1459.6" stroke="#000" stroke-width="2.5"/>
<path d="M508.2 1465.6L508.2 1459.6" stroke="#000" stroke-width="2.5"/>
<path d="M581.53 1465.6L581.53 1459.6" stroke="#000" stroke-width="2.5"/>
<path d="M141.5 1396.52L152.8 1396.52" stroke="#000" stroke-width="2.5"/>
<path d="M141.5 1327.04L152.8 1327.04" stroke="#000" stroke-width="2.5"/>
<path d="M141.5 1257.56L152.8 1257.56" stroke="#000" stroke-width="2.5"/>
<path d="M141.5 1188.08L152.8 1188.08" stroke="#000" stroke-width="2.5"/>
<path d="M141.5 1118.6L152.8 1118.6" stroke="#000" stroke-width="2.5"/>
<path d="M141.5 1431.26L147.5 1431.26" stroke="#000" stroke-width="2.5"/>
<path d="M141.5 1361.78L147.5 1361.78" stroke="#000" stroke-width="2.5"/>
<path d="M141.5 1292.3L147.5 1292.3" stroke="#000" stroke-width="2.5"/>
<path d="M141.5 1222.82L147.5 1222.82" stroke="#000" stroke-width="2.5"/>
<path d="M141.5 1153.34L147.5 1153.34" stroke="#000" stroke-width="2.5"/>
<clipPath id="cp5"><rect x="140" y="1082.9" width="479.5" height="384.2"/></clipPath>
<g clip-path="url(#cp5)">
<circle cx="583" cy="1123.83" r="7" fill="#ff0000"/>
<circle cx="450.27" cy="1258.09" r="7" fill="#ff0000"/>
<circle cx="470.8" cy="1233.41" r="7" fill="#ff0000"/>
<circle cx="509.67" cy="1282.48" r="7" fill="#ff0000"/>
<circle cx="423.87" cy="1272.8" r="7" fill="#ff0000"/>
<circle cx="496.47" cy="1292.05" r="7" fill="#ff0000"/>
<circle cx="491.33" cy="1295.41" r="7" fill="#ff0000"/>
<circle cx="549.27" cy="1277.64" r="7" fill="#ff0000"/>
<circle cx="318.27" cy="1378.73" r="7" fill="#ff0000"/>
<circle cx="348.33" cy="1368.07" r="7" fill="#ff0000"/>
<circle cx="205.33" cy="1437.07" r="7" fill="#ff0000"/>
<path d="M450.27 1216.18L458.52 1230.7L442.02 1230.7Z" fill="#00ff00"/>
<path d="M409.93 1352.52L418.18 1367.04L401.68 1367.04Z" fill="#00ff00"/>
<path d="M473 1371.77L481.25 1386.29L464.75 1386.29Z" fill="#00ff00"/>
<path d="M258.87 1422.12L267.12 1407.6L250.62 1407.6Z" fill="#0000ff"/>
<path d="M438.53 1374.74L446.78 1360.22L430.28 1360.22Z" fill="#0000ff"/>
<path d="M470.07 1472.87L478.32 1458.35L461.82 1458.35Z" fill="#0000ff"/>
<path d="M583 1098.76L583 1117.83" stroke="#ff4d4d" stroke-width="2.0"/>
<path d="M579.5 1098.76L586.5 1098.76" stroke="#ff4d4d" stroke-width="2.0"/>
<path d="M583 1129.83L583 1149.4" stroke="#ff4d4d" stroke-width="2.0"/>
<path d="M579.5 1149.4L586.5 1149.4" stroke="#ff4d4d" stroke-width="2.0"/>
<path d="M450.27 1226.3L450.27 1252.09" stroke="#ff4d4d" stroke-width="2.0"/>
<path d="M446.77 1226.3L453.77 1226.3" stroke="#ff4d4d" stroke-width="2.0"/>
<path d="M450.27 1264.09L450.27 1290.57" stroke="#ff4d4d" stroke-width="2.0"/>
<path d="M446.77 1290.57L453.77 1290.57" stroke="#ff4d4d" stroke-width="2.0"/>
<path d="M470.8 1221.86L470.8 1227.41" stroke="#ff4d4d" stroke-width="2.0"/>
<path d="M467.3 1221.86L474.3 1221.86" stroke="#ff4d4d" stroke-width="2.0"/>
<path d="M470.8 1239.41L470.8 1245.26" stroke="#ff4d4d" stroke-width="2.0"/>
<path d="M467.3 1245.26L474.3 1245.26" stroke="#ff4d4d" stroke-width="2.0"/>
<path d="M509.67 1252.96L509.67 1276.48" stroke="#ff4d4d" stroke-width="2.0"/>
<path d="M506.17 1252.96L513.17 1252.96" stroke="#ff4d4d" stroke-width="2.0"/>
<path d="M509.67 1288.48L509.67 1312.39" stroke="#ff4d4d" stroke-width="2.0"/>
<path d="M506.17 1312.39L513.17 1312.39" stroke="#ff4d4d" stroke-width="2.0"/>
<path d="M423.87 1222.85L423.87 1266.8" stroke="#ff4d4d" stroke-width="2.0"/>
<path d="M420.37 1222.85L427.37 1222.85" stroke="#ff4d4d" stroke-width="2.0"/>
<path d="M423.87 1278.8L423.87 1323.45" stroke="#ff4d4d" stroke-width="2.0"/>
<path d="M420.37 1323.45L427.37 1323.45" stroke="#ff4d4d" stroke-width="2.0"/>
<path d="M496.47 1266.29L496.47 1286.05" stroke="#ff4d4d" stroke-width="2.0"/>
<path d="M492.97 1266.29L499.97 1266.29" stroke="#ff4d4d" stroke-width="2.0"/>
<path d="M496.47 1298.05L496.47 1318.61" stroke="#ff4d4d" stroke-width="2.0"/>
<path d="M492.97 1318.61L499.97 1318.61" stroke="#ff4d4d" stroke-width="2.0"/>
<path d="M549.27 1228.18L549.27 1271.64" stroke="#ff4d4d" stroke-width="2.0"/>
<path d="M545.77 1228.18L552.77 1228.18" stroke="#ff4d4d" stroke-width="2.0"/>
<path d="M549.27 1283.64L549.27 1326.9" stroke="#ff4d4d" stroke-width="2.0"/>
<path d="M545.77 1326.9L552.77 1326.9" stroke="#ff4d4d" stroke-width="2.0"/>
<path d="M318.27 1357.41L318.27 1372.73" stroke="#ff4d4d" stroke-width="2.0"/>
<path d="M314.77 1357.41L321.77 1357.41" stroke="#ff4d4d" stroke-width="2.0"/>
<path d="M318.27 1384.73L318.27 1399.76" stroke="#ff4d4d" stroke-width="2.0"/>
<path d="M314.77 1399.76L321.77 1399.76" stroke="#ff4d4d" stroke-width="2.0"/>
<path d="M450.27 1194.81L450.27 1218.18" stroke="#4dff4d" stroke-width="2.0"/>
<path d="M446.77 1194.81L453.77 1194.81" stroke="#4dff4d" stroke-width="2.0"/>
<path d="M450.27 1233.7L450.27 1256.12" stroke="#4dff4d" stroke-width="2.0"/>
<path d="M446.77 1256.12L453.77 1256.12" stroke="#4dff4d" stroke-width="2.0"/>
<path d="M409.93 1342.7L409.93 1354.52" stroke="#4dff4d" stroke-width="2.0"/>
<path d="M406.43 1342.7L413.43 1342.7" stroke="#4dff4d" stroke-width="2.0"/>
<path d="M409.93 1370.04L409.93 1380.01" stroke="#4dff4d" stroke-width="2.0"/>
<path d="M406.43 1380.01L413.43 1380.01" stroke="#4dff4d" stroke-width="2.0"/>
<path d="M258.87 1400.94L258.87 1404.6" stroke="#3a3aff" stroke-width="2.0"/>
<path d="M255.37 1400.94L262.37 1400.94" stroke="#3a3aff" stroke-width="2.0"/>
<path d="M258.87 1420.12L258.87 1424.54" stroke="#3a3aff" stroke-width="2.0"/>
<path d="M255.37 1424.54L262.37 1424.54" stroke="#3a3aff" stroke-width="2.0"/>
<path d="M438.53 1351.98L438.53 1357.22" stroke="#3a3aff" stroke-width="2.0"/>
<path d="M435.03 1351.98L442.03 1351.98" stroke="#3a3aff" stroke-width="2.0"/>
<path d="M438.53 1372.74L438.53 1381.99" stroke="#3a3aff" stroke-width="2.0"/>
<path d="M435.03 1381.99L442.03 1381.99" stroke="#3a3aff" stroke-width="2.0"/>
<path d="M470.07 1454.15L470.07 1458.85" stroke="#3a3aff" stroke-width="2.0"/>
</g>
<text x="178.2" y="1491.5" font-size="18" text-anchor="middle" font-family="Liberation Sans" font-weight="normal" fill="#000" >2650</text>
<text x="251.53" y="1491.5" font-size="18" text-anchor="middle" font-family="Liberation Sans" font-weight="normal" fill="#000" >2660</text>
<text x="324.87" y="1491.5" font-size="18" text-anchor="middle" font-family="Liberation Sans" font-weight="normal" fill="#000" >2670</text>
<text x="398.2" y="1491.5" font-size="18" text-anchor="middle" font-family="Liberation Sans" font-weight="normal" fill="#000" >2680</text>
<text x="471.53" y="1491.5" font-size="18" text-anchor="middle" font-family="Liberation Sans" font-weight="normal" fill="#000" >2690</text>
<text x="544.87" y="1491.5" font-size="18" text-anchor="middle" font-family="Liberation Sans" font-weight="normal" fill="#000" >2700</text>
<text x="618.2" y="1491.5" font-size="18" text-anchor="middle" font-family="Liberation Sans" font-weight="normal" fill="#000" >2710</text>
<text x="128.1" y="1403.72" font-size="17.8" text-anchor="end" font-family="Liberation Sans" font-weight="normal" fill="#000" >2.0 x 10</text>
<text x="128.8" y="1392.22" font-size="10.5" text-anchor="start" font-family="Liberation Sans" font-weight="normal" fill="#000" >-5</text>
<text x="128.1" y="1334.24" font-size="17.8" text-anchor="end" font-family="Liberation Sans" font-weight="normal" fill="#000" >4.0 x 10</text>
<text x="128.8" y="1322.74" font-size="10.5" text-anchor="start" font-family="Liberation Sans" font-weight="normal" fill="#000" >-5</text>
<text x="128.1" y="1264.76" font-size="17.8" text-anchor="end" font-family="Liberation Sans" font-weight="normal" fill="#000" >6.0 x 10</text>
<text x="128.8" y="1253.26" font-size="10.5" text-anchor="start" font-family="Liberation Sans" font-weight="normal" fill="#000" >-5</text>
<text x="128.1" y="1195.28" font-size="17.8" text-anchor="end" font-family="Liberation Sans" font-weight="normal" fill="#000" >8.0 x 10</text>
<text x="128.8" y="1183.78" font-size="10.5" text-anchor="start" font-family="Liberation Sans" font-weight="normal" fill="#000" >-5</text>
<text x="128.1" y="1125.8" font-size="17.8" text-anchor="end" font-family="Liberation Sans" font-weight="normal" fill="#000" >1.0 x 10</text>
<text x="128.8" y="1114.3" font-size="10.5" text-anchor="start" font-family="Liberation Sans" font-weight="normal" fill="#000" >-4</text>
<text x="321.3" y="1531" font-size="22.4" font-family="Liberation Sans" fill="#000"><tspan font-size="22.4">Pos</tspan><tspan font-size="13.2" dy="8.5">2D</tspan><tspan font-size="22.4" dy="-8.5"> (cm</tspan><tspan font-size="12" dy="-12.3">-1</tspan><tspan font-size="22.4" dy="12.3">)</tspan></text>
<g transform="translate(46,1324.7) rotate(-90)"><text x="0" y="0" font-size="22" font-family="Liberation Sans" fill="#000"><tspan font-size="22">I</tspan><tspan font-size="13.5" dy="8.5">SC</tspan><tspan font-size="22" dy="-8.5"> (A)</tspan></text></g>
<rect x="171.3" y="1109.3" width="86.9" height="80.1" fill="#fff" stroke="#333" stroke-width="1.6"/>
<rect x="184.65" y="1114.85" width="11.5" height="11.5" fill="#000"/>
<text x="211.8" y="1125.1" font-size="15.5" text-anchor="start" font-family="Liberation Sans" font-weight="normal" fill="#000" >0°C</text>
<circle cx="190.4" cy="1140.1" r="7" fill="#ff0000"/>
<text x="211.8" y="1144.6" font-size="15.5" text-anchor="start" font-family="Liberation Sans" font-weight="normal" fill="#000" >700°C</text>
<path d="M190.4 1150.47L198.62 1164.93L182.19 1164.93Z" fill="#00ff00"/>
<text x="211.8" y="1164.3" font-size="15.5" text-anchor="start" font-family="Liberation Sans" font-weight="normal" fill="#000" >800°C</text>
<path d="M190.4 1188.13L198.62 1173.67L182.19 1173.67Z" fill="#0000ff"/>
<text x="211.8" y="1184.2" font-size="15.5" text-anchor="start" font-family="Liberation Sans" font-weight="normal" fill="#000" >900°C</text>
<text x="328.3" y="1582.3" font-size="33" font-family="Liberation Serif" text-anchor="middle" fill="#000">(<tspan font-weight="bold">e</tspan>)</text>
<rect x="684" y="1070" width="635" height="478" fill="#fdfdfd"/>
<rect x="816.7" y="1084.4" width="477.29999999999995" height="381.0999999999999" fill="#fff"/>
<rect x="816.7" y="1084.4" width="477.3" height="381.1" fill="none" stroke="#000" stroke-width="3"/>
<path d="M936.03 1465.5L936.03 1454.2" stroke="#000" stroke-width="2.5"/>
<path d="M1055.35 1465.5L1055.35 1454.2" stroke="#000" stroke-width="2.5"/>
<path d="M1174.67 1465.5L1174.67 1454.2" stroke="#000" stroke-width="2.5"/>
<path d="M876.36 1465.5L876.36 1459.5" stroke="#000" stroke-width="2.5"/>
<path d="M995.69 1465.5L995.69 1459.5" stroke="#000" stroke-width="2.5"/>
<path d="M1115.01 1465.5L1115.01 1459.5" stroke="#000" stroke-width="2.5"/>
<path d="M1234.34 1465.5L1234.34 1459.5" stroke="#000" stroke-width="2.5"/>
<path d="M816.7 1396.54L828 1396.54" stroke="#000" stroke-width="2.5"/>
<path d="M816.7 1327.08L828 1327.08" stroke="#000" stroke-width="2.5"/>
<path d="M816.7 1257.62L828 1257.62" stroke="#000" stroke-width="2.5"/>
<path d="M816.7 1188.16L828 1188.16" stroke="#000" stroke-width="2.5"/>
<path d="M816.7 1118.7L828 1118.7" stroke="#000" stroke-width="2.5"/>
<path d="M816.7 1431.27L822.7 1431.27" stroke="#000" stroke-width="2.5"/>
<path d="M816.7 1361.81L822.7 1361.81" stroke="#000" stroke-width="2.5"/>
<path d="M816.7 1292.35L822.7 1292.35" stroke="#000" stroke-width="2.5"/>
<path d="M816.7 1222.89L822.7 1222.89" stroke="#000" stroke-width="2.5"/>
<path d="M816.7 1153.43L822.7 1153.43" stroke="#000" stroke-width="2.5"/>
<clipPath id="cp6"><rect x="815.2" y="1082.9" width="480.3" height="384.1"/></clipPath>
<g clip-path="url(#cp6)">
<circle cx="915.14" cy="1123.93" r="7" fill="#ff0000"/>
<circle cx="1224.19" cy="1258.15" r="7" fill="#ff0000"/>
<circle cx="1094.13" cy="1233.48" r="7" fill="#ff0000"/>
<circle cx="980.18" cy="1282.53" r="7" fill="#ff0000"/>
<circle cx="1066.09" cy="1272.86" r="7" fill="#ff0000"/>
<circle cx="996.88" cy="1292.1" r="7" fill="#ff0000"/>
<circle cx="1005.83" cy="1295.46" r="7" fill="#ff0000"/>
<circle cx="921.71" cy="1277.69" r="7" fill="#ff0000"/>
<circle cx="1245.67" cy="1378.76" r="7" fill="#ff0000"/>
<circle cx="1205.7" cy="1368.1" r="7" fill="#ff0000"/>
<circle cx="1276.1" cy="1437.08" r="7" fill="#ff0000"/>
<path d="M921.71 1216.25L929.96 1230.77L913.46 1230.77Z" fill="#00ff00"/>
<path d="M869.2 1352.55L877.45 1367.07L860.95 1367.07Z" fill="#00ff00"/>
<path d="M1088.16 1371.79L1096.41 1386.31L1079.91 1386.31Z" fill="#00ff00"/>
<path d="M1200.93 1422.14L1209.18 1407.62L1192.68 1407.62Z" fill="#0000ff"/>
<path d="M992.11 1374.76L1000.36 1360.24L983.86 1360.24Z" fill="#0000ff"/>
<path d="M1203.91 1472.87L1212.16 1458.35L1195.66 1458.35Z" fill="#0000ff"/>
<path d="M915.14 1098.86L915.14 1117.93" stroke="#ff4d4d" stroke-width="2.0"/>
<path d="M911.64 1098.86L918.64 1098.86" stroke="#ff4d4d" stroke-width="2.0"/>
<path d="M915.14 1129.93L915.14 1149.49" stroke="#ff4d4d" stroke-width="2.0"/>
<path d="M911.64 1149.49L918.64 1149.49" stroke="#ff4d4d" stroke-width="2.0"/>
<path d="M1224.19 1226.37L1224.19 1252.15" stroke="#ff4d4d" stroke-width="2.0"/>
<path d="M1220.69 1226.37L1227.69 1226.37" stroke="#ff4d4d" stroke-width="2.0"/>
<path d="M1224.19 1264.15L1224.19 1290.62" stroke="#ff4d4d" stroke-width="2.0"/>
<path d="M1220.69 1290.62L1227.69 1290.62" stroke="#ff4d4d" stroke-width="2.0"/>
<path d="M1094.13 1221.93L1094.13 1227.48" stroke="#ff4d4d" stroke-width="2.0"/>
<path d="M1090.63 1221.93L1097.63 1221.93" stroke="#ff4d4d" stroke-width="2.0"/>
<path d="M1094.13 1239.48L1094.13 1245.32" stroke="#ff4d4d" stroke-width="2.0"/>
<path d="M1090.63 1245.32L1097.63 1245.32" stroke="#ff4d4d" stroke-width="2.0"/>
<path d="M980.18 1253.02L980.18 1276.53" stroke="#ff4d4d" stroke-width="2.0"/>
<path d="M976.68 1253.02L983.68 1253.02" stroke="#ff4d4d" stroke-width="2.0"/>
<path d="M980.18 1288.53L980.18 1312.43" stroke="#ff4d4d" stroke-width="2.0"/>
<path d="M976.68 1312.43L983.68 1312.43" stroke="#ff4d4d" stroke-width="2.0"/>
<path d="M1066.09 1222.92L1066.09 1266.86" stroke="#ff4d4d" stroke-width="2.0"/>
<path d="M1062.59 1222.92L1069.59 1222.92" stroke="#ff4d4d" stroke-width="2.0"/>
<path d="M1066.09 1278.86L1066.09 1323.49" stroke="#ff4d4d" stroke-width="2.0"/>
<path d="M1062.59 1323.49L1069.59 1323.49" stroke="#ff4d4d" stroke-width="2.0"/>
<path d="M996.88 1266.34L996.88 1286.1" stroke="#ff4d4d" stroke-width="2.0"/>
<path d="M993.38 1266.34L1000.38 1266.34" stroke="#ff4d4d" stroke-width="2.0"/>
<path d="M996.88 1298.1L996.88 1318.65" stroke="#ff4d4d" stroke-width="2.0"/>
<path d="M993.38 1318.65L1000.38 1318.65" stroke="#ff4d4d" stroke-width="2.0"/>
<path d="M921.71 1228.25L921.71 1271.69" stroke="#ff4d4d" stroke-width="2.0"/>
<path d="M918.21 1228.25L925.21 1228.25" stroke="#ff4d4d" stroke-width="2.0"/>
<path d="M921.71 1283.69L921.71 1326.94" stroke="#ff4d4d" stroke-width="2.0"/>
<path d="M918.21 1326.94L925.21 1326.94" stroke="#ff4d4d" stroke-width="2.0"/>
<path d="M1245.67 1357.44L1245.67 1372.76" stroke="#ff4d4d" stroke-width="2.0"/>
<path d="M1242.17 1357.44L1249.17 1357.44" stroke="#ff4d4d" stroke-width="2.0"/>
<path d="M1245.67 1384.76L1245.67 1399.78" stroke="#ff4d4d" stroke-width="2.0"/>
<path d="M1242.17 1399.78L1249.17 1399.78" stroke="#ff4d4d" stroke-width="2.0"/>
<path d="M921.71 1194.89L921.71 1218.25" stroke="#4dff4d" stroke-width="2.0"/>
<path d="M918.21 1194.89L925.21 1194.89" stroke="#4dff4d" stroke-width="2.0"/>
<path d="M921.71 1233.77L921.71 1256.18" stroke="#4dff4d" stroke-width="2.0"/>
<path d="M918.21 1256.18L925.21 1256.18" stroke="#4dff4d" stroke-width="2.0"/>
<path d="M869.2 1342.73L869.2 1354.55" stroke="#4dff4d" stroke-width="2.0"/>
<path d="M865.7 1342.73L872.7 1342.73" stroke="#4dff4d" stroke-width="2.0"/>
<path d="M869.2 1370.07L869.2 1380.04" stroke="#4dff4d" stroke-width="2.0"/>
<path d="M865.7 1380.04L872.7 1380.04" stroke="#4dff4d" stroke-width="2.0"/>
<path d="M1200.93 1400.96L1200.93 1404.62" stroke="#3a3aff" stroke-width="2.0"/>
<path d="M1197.43 1400.96L1204.43 1400.96" stroke="#3a3aff" stroke-width="2.0"/>
<path d="M1200.93 1420.14L1200.93 1424.55" stroke="#3a3aff" stroke-width="2.0"/>
<path d="M1197.43 1424.55L1204.43 1424.55" stroke="#3a3aff" stroke-width="2.0"/>
<path d="M992.11 1352.01L992.11 1357.24" stroke="#3a3aff" stroke-width="2.0"/>
<path d="M988.61 1352.01L995.61 1352.01" stroke="#3a3aff" stroke-width="2.0"/>
<path d="M992.11 1372.76L992.11 1382.01" stroke="#3a3aff" stroke-width="2.0"/>
<path d="M988.61 1382.01L995.61 1382.01" stroke="#3a3aff" stroke-width="2.0"/>
<path d="M1203.91 1454.16L1203.91 1458.85" stroke="#3a3aff" stroke-width="2.0"/>
</g>
<text x="816.7" y="1491.5" font-size="18" text-anchor="middle" font-family="Liberation Sans" font-weight="normal" fill="#000" >1592</text>
<text x="936.03" y="1491.5" font-size="18" text-anchor="middle" font-family="Liberation Sans" font-weight="normal" fill="#000" >1594</text>
<text x="1055.35" y="1491.5" font-size="18" text-anchor="middle" font-family="Liberation Sans" font-weight="normal" fill="#000" >1596</text>
<text x="1174.67" y="1491.5" font-size="18" text-anchor="middle" font-family="Liberation Sans" font-weight="normal" fill="#000" >1598</text>
<text x="1294" y="1491.5" font-size="18" text-anchor="middle" font-family="Liberation Sans" font-weight="normal" fill="#000" >1600</text>
<text x="803.9" y="1403.74" font-size="17.8" text-anchor="end" font-family="Liberation Sans" font-weight="normal" fill="#000" >2.0 x 10</text>
<text x="804.6" y="1392.24" font-size="10.5" text-anchor="start" font-family="Liberation Sans" font-weight="normal" fill="#000" >-5</text>
<text x="803.9" y="1334.28" font-size="17.8" text-anchor="end" font-family="Liberation Sans" font-weight="normal" fill="#000" >4.0 x 10</text>
<text x="804.6" y="1322.78" font-size="10.5" text-anchor="start" font-family="Liberation Sans" font-weight="normal" fill="#000" >-5</text>
<text x="803.9" y="1264.82" font-size="17.8" text-anchor="end" font-family="Liberation Sans" font-weight="normal" fill="#000" >6.0 x 10</text>
<text x="804.6" y="1253.32" font-size="10.5" text-anchor="start" font-family="Liberation Sans" font-weight="normal" fill="#000" >-5</text>
<text x="803.9" y="1195.36" font-size="17.8" text-anchor="end" font-family="Liberation Sans" font-weight="normal" fill="#000" >8.0 x 10</text>
<text x="804.6" y="1183.86" font-size="10.5" text-anchor="start" font-family="Liberation Sans" font-weight="normal" fill="#000" >-5</text>
<text x="803.9" y="1125.9" font-size="17.8" text-anchor="end" font-family="Liberation Sans" font-weight="normal" fill="#000" >1.0 x 10</text>
<text x="804.6" y="1114.4" font-size="10.5" text-anchor="start" font-family="Liberation Sans" font-weight="normal" fill="#000" >-4</text>
<text x="999.6" y="1531" font-size="22.4" font-family="Liberation Sans" fill="#000"><tspan font-size="22.4">Pos</tspan><tspan font-size="13.2" dy="9">G</tspan><tspan font-size="22.4" dy="-9"> (cm</tspan><tspan font-size="12" dy="-12.3">-1</tspan><tspan font-size="22.4" dy="12.3">)</tspan></text>
<g transform="translate(711,1324.1) rotate(-90)"><text x="0" y="0" font-size="22" font-family="Liberation Sans" fill="#000"><tspan font-size="22">I</tspan><tspan font-size="13.5" dy="8.5">SC</tspan><tspan font-size="22" dy="-8.5"> (A)</tspan></text></g>
<rect x="1171.7" y="1110.2" width="87.1" height="59.2" fill="#fff" stroke="#333" stroke-width="1.6"/>
<circle cx="1190.4" cy="1120.3" r="7" fill="#ff0000"/>
<text x="1213" y="1125.9" font-size="15.5" text-anchor="start" font-family="Liberation Sans" font-weight="normal" fill="#000" >700°C</text>
<path d="M1190.4 1130.44L1198.88 1145.36L1181.92 1145.36Z" fill="#00ff00"/>
<text x="1213" y="1145.3" font-size="15.5" text-anchor="start" font-family="Liberation Sans" font-weight="normal" fill="#000" >800°C</text>
<path d="M1190.4 1168.86L1198.88 1153.94L1181.92 1153.94Z" fill="#0000ff"/>
<text x="1213" y="1164.6" font-size="15.5" text-anchor="start" font-family="Liberation Sans" font-weight="normal" fill="#000" >900°C</text>
<text x="1004.1" y="1582.3" font-size="33" font-family="Liberation Serif" text-anchor="middle" fill="#000">(<tspan font-weight="bold">f</tspan>)</text>
</svg>
</body></html>
